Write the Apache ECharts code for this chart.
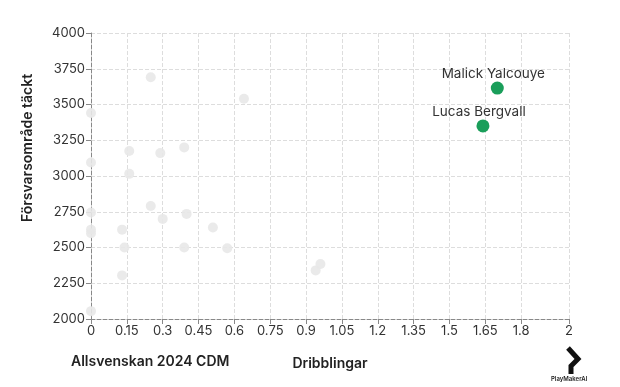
<!DOCTYPE html>
<html>
<head>
<meta charset="utf-8">
<script src="https://cdn.jsdelivr.net/npm/echarts@6/dist/echarts.min.js"></script>
<style>html,body{margin:0;padding:0;background:#fff}#c{width:620px;height:387px}</style>
</head>
<body>
<div id="c"></div>
<script>
var xTicks = [0, 0.15, 0.3, 0.45, 0.6, 0.75, 0.9, 1.05, 1.2, 1.35, 1.5, 1.65, 1.8, 2];
var otherPlayers = [
  [0.25, 3690], [0.64, 3540], [0, 3440], [0, 3095], [0.16, 3175], [0.16, 3015],
  [0.29, 3160], [0.39, 3200], [0, 2745], [0, 2625], [0, 2600], [0.25, 2790],
  [0.30, 2700], [0.40, 2735], [0.13, 2625], [0.14, 2500], [0.39, 2500],
  [0.51, 2640], [0.57, 2495], [0.13, 2305], [0, 2055], [0.94, 2340], [0.96, 2385]
];
var highlightNames = ['Malick Yalcouye', 'Lucas Bergvall'];
var highlightValues = [[1.70, 3615], [1.64, 3350]];

var font = 'Inter, "Noto Sans", sans-serif';
var chart = echarts.init(document.getElementById('c'));
chart.setOption({
  backgroundColor: '#fff',
  animation: false,
  textStyle: { fontFamily: font },
  grid: { left: 91, right: 51, top: 33, bottom: 68, containLabel: false },
  xAxis: {
    type: 'value', min: 0, max: 2,
    name: 'Dribblingar', nameLocation: 'middle', nameGap: 38,
    nameTextStyle: { fontSize: 14, fontWeight: 600, color: '#222', fontFamily: font },
    axisLine: { show: true, lineStyle: { color: '#888', type: 'dashed' } },
    axisTick: { show: true, length: 5, lineStyle: { color: '#888' }, customValues: xTicks },
    axisLabel: { fontSize: 13, color: '#333', margin: 6, customValues: xTicks, fontFamily: font },
    splitLine: { show: true, lineStyle: { color: '#ddd', type: 'dashed' } }
  },
  yAxis: {
    type: 'value', min: 2000, max: 4000, interval: 250,
    axisLine: { show: true, lineStyle: { color: '#888', type: 'dashed' } },
    axisTick: { show: true, length: 5, lineStyle: { color: '#888' } },
    axisLabel: { fontSize: 13, color: '#333', margin: 6, fontFamily: font,
      formatter: function (v) { return String(v); } },
    splitLine: { show: true, lineStyle: { color: '#ddd', type: 'dashed' } }
  },
  series: [
    {
      type: 'scatter', data: otherPlayers, symbolSize: 10,
      itemStyle: { color: '#e8e8e8', opacity: 0.9 }, z: 2
    },
    {
      type: 'scatter',
      data: highlightValues.map(function (v, i) { return { value: v, name: highlightNames[i] }; }),
      symbolSize: 13,
      itemStyle: { color: '#1a9e5a', opacity: 1 },
      label: {
        show: true, position: 'top', distance: 1, offset: [-4, 0], formatter: '{b}',
        fontSize: 13.5, color: '#333', fontFamily: font
      },
      z: 3
    }
  ],
  graphic: [
    {
      type: 'text', x: 28, y: 148, rotation: Math.PI / 2,
      style: { text: 'Försvarsområde täckt', fontSize: 14, fontWeight: 600, fill: '#222',
        fontFamily: font, align: 'center', verticalAlign: 'middle' }
    },
    {
      type: 'text', left: 71, top: 355,
      style: { text: 'Allsvenskan 2024 CDM', fontSize: 14, fontWeight: 600, fill: '#222', fontFamily: font }
    },
    {
      type: 'polyline',
      shape: { points: [[568, 348], [578, 359], [571, 366], [571, 374]] },
      style: { stroke: '#111', lineWidth: 5, fill: null, lineJoin: 'miter' }
    },
    {
      type: 'text', left: 551, top: 376,
      style: { text: 'PlayMakerAI', fontSize: 6, fontWeight: 600, fill: '#222', fontFamily: font }
    }
  ]
});
</script>
</body>
</html>
